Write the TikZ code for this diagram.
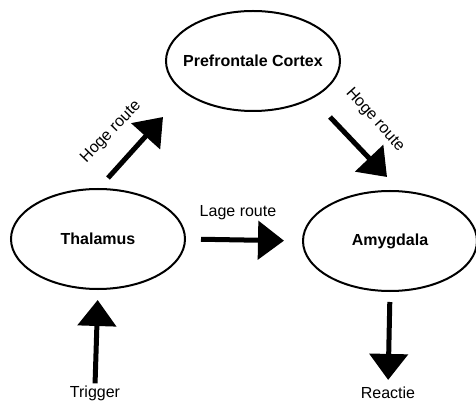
\documentclass[tikz,border=0pt]{standalone}
\usepackage{fontspec}
\setmainfont{Liberation Sans}
\usetikzlibrary{shapes.geometric,arrows.meta}
\begin{document}
\begin{tikzpicture}[x=1pt,y=-1pt,
	area/.style={ellipse,draw,line width=2pt,minimum width=174pt,minimum height=100pt},
	areatext/.style={font=\fontsize{16}{19}\selectfont\bfseries},
	route/.style={line width=5pt,-{Triangle[width=38pt,length=26pt]}},
	lbl/.style={font=\fontsize{16}{19}\selectfont,inner sep=0pt}]
		\useasboundingbox (0,0) rectangle (476,403);
		\node[area,label={[areatext]center:Prefrontale Cortex}] (PFC) at (253,61) {};
		\node[area,label={[areatext]center:Thalamus}] (THA) at (98,239) {};
		\node[area,label={[areatext]center:Amygdala}] (AMY) at (390,241) {};
		\node[lbl] (Trigger) at (95,393) {Trigger};
		\node[lbl] (Reactie) at (388,393) {Reactie};
		\coordinate (hogeL1) at (108,178);
		\coordinate (hogeL2) at (163,117);
		\coordinate (hogeR1) at (330,117);
		\coordinate (hogeR2) at (387,177);
		\draw[route] (hogeL1) -- (hogeL2);
		\draw[route] (hogeR1) -- (hogeR2);
		\draw[route,shorten <=15pt,shorten >=18pt] (THA.east) -- (AMY.west);
		\draw[route,shorten <=2pt,shorten >=10pt] (Trigger.north) -- (THA.south);
		\draw[route,shorten <=10pt,shorten >=7pt] (AMY.south) -- (Reactie.north);
		\node[lbl,rotate=46] (hogeLtxt) at (111,132) {Hoge route};
		\node[lbl,rotate=-48] (hogeRtxt) at (375,120) {Hoge route};
		\node[lbl] (lage) at (238,213) {Lage route};
	\end{tikzpicture}
\end{document}
